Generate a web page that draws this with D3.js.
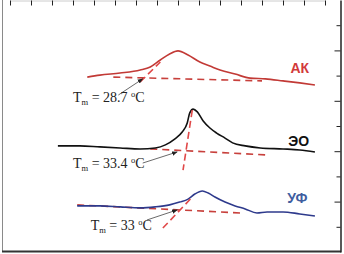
<!DOCTYPE html>
<html>
<head>
<meta charset="utf-8">
<script src="https://cdn.jsdelivr.net/npm/d3@7"></script>
<style>
  body { margin: 0; background: #fff; }
  svg { display: block; }
</style>
</head>
<body>
<svg width="344" height="254"></svg>
<script>
// DSC curves, temperature (deg C) vs heat flow (arb. units)
var akCurve = [[21.7,6.94],[23.2,7.02],[25.6,7.10],[28.0,7.22],[29.2,7.34],[30.4,7.62],[31.5,7.86],[32.5,7.98],
  [33.7,7.82],[35.1,7.54],[36.3,7.38],[37.5,7.22],[39.3,7.06],[41.1,6.90],[42.9,6.87],[45.0,6.79],[47.0,6.71],[48.8,6.63]];
var eoCurve = [[18.2,4.21],[20.8,4.21],[23.2,4.17],[25.6,4.13],[28.0,4.09],[29.8,4.13],[31.0,4.25],[32.1,4.48],
  [33.0,4.76],[33.6,5.12],[33.9,5.52],[34.3,5.67],[34.8,5.56],[35.5,5.20],[36.3,4.92],[37.1,4.72],[38.1,4.52],
  [39.0,4.33],[40.5,4.21],[42.3,4.13],[45.0,4.09],[47.0,4.05],[48.8,3.97]];
var ufCurve = [[20.5,1.83],[23.2,1.83],[25.6,1.79],[28.0,1.75],[29.8,1.79],[31.5,1.87],[32.7,1.98],[33.7,2.10],
  [34.5,2.30],[35.4,2.42],[36.1,2.34],[36.9,2.18],[38.1,1.98],[39.3,1.83],[40.5,1.71],[41.9,1.55],[43.1,1.59],
  [45.0,1.59],[47.0,1.51],[48.8,1.43]];

// baselines and onset tangents (dashed)
var akBase = [[24.8,6.94],[42.5,6.79]];
var akTangent = [[28.0,6.75],[30.4,7.54]];
var eoBase = [[29.2,4.09],[43.1,3.85]];
var eoTangent = [[34.2,5.63],[33.1,3.25]];
var ufBase = [[20.5,1.87],[39.9,1.55]];
var ufTangent = [[30.7,0.95],[34.2,2.18]];

var seriesNames = ["АК", "ЭО", "УФ"];
var seriesLabelAt = [[48.1,7.10],[48.1,4.21],[47.9,1.94]];
var tmValues = ["28.7", "33.4", "33"];
var tmLabelAt = [[20.0,5.95],[20.0,3.33],[22.1,0.87]];
var arrowFrom = [[25.4,6.23],[28.3,3.53],[28.8,1.27]];
var arrowTo = [[28.3,6.87],[32.4,3.97],[32.4,1.67]];

var xTicks = d3.range(12.5, 50.01, 2.5);
var yTicks = d3.range(1, 10, 1);

var curves = [akCurve, eoCurve, ufCurve];
var bases = [akBase, eoBase, ufBase];
var tangents = [akTangent, eoTangent, ufTangent];
var lineColors = ["#c23a36", "#111111", "#2e3a8c"];
var labelColors = ["#d2393a", "#111111", "#3f5ea0"];

var svg = d3.select("svg");

var x = d3.scaleLinear().domain([12.5, 50]).range([10, 325]),
    y = d3.scaleLinear().domain([0, 10]).range([252, 0]);

var line = d3.line()
    .curve(d3.curveMonotoneX)
    .x(function(d) { return x(d[0]); })
    .y(function(d) { return y(d[1]); });

var straight = d3.line()
    .x(function(d) { return x(d[0]); })
    .y(function(d) { return y(d[1]); });

// frame
svg.append("line").attr("x1", 2.5).attr("x2", 2.5).attr("y1", 0).attr("y2", 252)
    .attr("stroke", "#8a8a8a").attr("stroke-width", 1);
svg.append("line").attr("x1", 2).attr("x2", 341).attr("y1", 251.5).attr("y2", 251.5)
    .attr("stroke", "#333").attr("stroke-width", 2);

// top ticks
svg.append("g")
    .attr("transform", "translate(0,0.5)")
    .call(d3.axisBottom(x).tickValues(xTicks).tickSize(5).tickSizeOuter(0).tickFormat(""))
    .call(function(g) { g.select(".domain").attr("stroke", "#ccc"); })
    .selectAll(".tick line").attr("stroke", "#222");

// right ticks, pointing inward
svg.append("g")
    .attr("transform", "translate(340.5,0)")
    .call(d3.axisLeft(y).tickValues(yTicks).tickSize(5).tickSizeOuter(0).tickFormat(""))
    .call(function(g) { g.select(".domain").attr("stroke", "#222").attr("stroke-width", 1.5); })
    .selectAll(".tick line")
      .attr("stroke", "#222")
      .attr("x2", function(d) { return d % 2 === 0 ? -6 : -4; });

// dashed baselines and tangents
svg.selectAll(".base")
    .data(bases)
  .enter().append("path")
    .attr("class", "base")
    .attr("d", straight)
    .attr("fill", "none")
    .attr("stroke", "#c8403c")
    .attr("stroke-width", 1.6)
    .attr("stroke-dasharray", "7,5");

// curves
svg.selectAll(".curve")
    .data(curves)
  .enter().append("path")
    .attr("class", "curve")
    .attr("d", line)
    .attr("fill", "none")
    .attr("stroke", function(d, i) { return lineColors[i]; })
    .attr("stroke-width", 1.6);

svg.selectAll(".tangent")
    .data(tangents)
  .enter().append("path")
    .attr("class", "tangent")
    .attr("d", straight)
    .attr("fill", "none")
    .attr("stroke", "#e04848")
    .attr("stroke-width", 1.6)
    .attr("stroke-dasharray", "7,4");

// arrows
svg.append("defs").append("marker")
    .attr("id", "arrow")
    .attr("viewBox", "0 0 10 10")
    .attr("refX", 9).attr("refY", 5)
    .attr("markerWidth", 7).attr("markerHeight", 7)
    .attr("orient", "auto")
  .append("path")
    .attr("d", "M0,1L10,5L0,9z")
    .attr("fill", "#222");

svg.selectAll(".arrow")
    .data(arrowFrom)
  .enter().append("line")
    .attr("class", "arrow")
    .attr("x1", function(d) { return x(d[0]); })
    .attr("y1", function(d) { return y(d[1]); })
    .attr("x2", function(d, i) { return x(arrowTo[i][0]); })
    .attr("y2", function(d, i) { return y(arrowTo[i][1]); })
    .attr("stroke", "#444")
    .attr("stroke-width", 0.8)
    .attr("marker-end", "url(#arrow)");

// Tm labels
var tm = svg.selectAll(".tm")
    .data(tmValues)
  .enter().append("text")
    .attr("class", "tm")
    .attr("x", function(d, i) { return x(tmLabelAt[i][0]); })
    .attr("y", function(d, i) { return y(tmLabelAt[i][1]); })
    .style("font", "14px 'Liberation Serif', serif")
    .attr("fill", "#222");
tm.append("tspan").text("T");
tm.append("tspan").attr("dy", 3).style("font-size", "8.5px").text("m");
tm.append("tspan").attr("dy", -3).text(function(d) { return " = " + d + " "; });
tm.append("tspan").attr("dy", -5).style("font-size", "8.5px").text("o");
tm.append("tspan").attr("dy", 5).text("C");

// series labels
svg.selectAll(".name")
    .data(seriesNames)
  .enter().append("text")
    .attr("class", "name")
    .attr("x", function(d, i) { return x(seriesLabelAt[i][0]); })
    .attr("y", function(d, i) { return y(seriesLabelAt[i][1]); })
    .attr("text-anchor", "end")
    .style("font", "bold 14px 'Liberation Sans', Arial, sans-serif")
    .attr("fill", function(d, i) { return labelColors[i]; })
    .text(function(d) { return d; });
</script>
</body>
</html>
